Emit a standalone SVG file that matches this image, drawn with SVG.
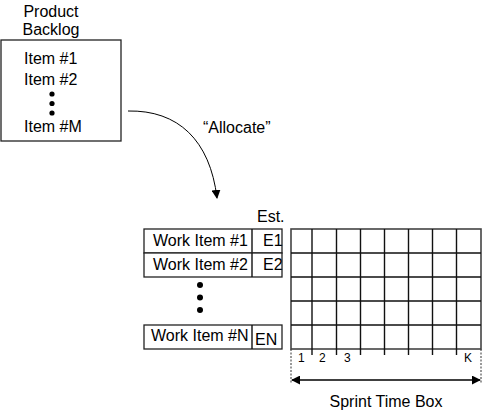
<svg xmlns="http://www.w3.org/2000/svg" width="484" height="414" viewBox="0 0 484 414">
<style>
text{font-family:"Liberation Sans",Arial,sans-serif;font-size:16px;fill:#000}
.s{font-size:12px}
.b{fill:#fff;stroke:#222;stroke-width:1.3}
.g{stroke:#111;stroke-width:1.4;fill:none}
</style>
<defs>
<marker id="ah" viewBox="0 0 10 10" refX="9" refY="5" markerWidth="9" markerHeight="9" markerUnits="userSpaceOnUse" orient="auto-start-reverse">
<path d="M0,0 L10,5 L0,10 z" fill="#000"/>
</marker>
</defs>
<g id="backlog">
<text x="51" y="17" text-anchor="middle">Product</text>
<text x="51" y="35" text-anchor="middle">Backlog</text>
<rect class="b" x="1" y="40" width="120" height="101"/>
<text x="24" y="64">Item #1</text>
<text x="24" y="85">Item #2</text>
<circle cx="52" cy="94" r="2.6"/>
<circle cx="52" cy="103.5" r="2.6"/>
<circle cx="52" cy="113" r="2.6"/>
<text x="24" y="132">Item #M</text>
</g>
<g id="connectors">
<path d="M128,111 C178,110 210,140 217,198" fill="none" stroke="#000" stroke-width="1" marker-end="url(#ah)"/>
<text x="203" y="133">“Allocate”</text>
</g>
<g id="workitems">
<text x="257" y="222">Est.</text>
<rect class="b" x="144" y="229" width="138" height="24"/>
<line class="g" x1="252" y1="229" x2="252" y2="253"/>
<text x="153" y="246">Work Item #1</text>
<text x="263" y="246">E1</text>
<rect class="b" x="144" y="253" width="138" height="24"/>
<line class="g" x1="252" y1="253" x2="252" y2="277"/>
<text x="153" y="270">Work Item #2</text>
<text x="263" y="270">E2</text>
<circle cx="200" cy="285" r="3"/>
<circle cx="200" cy="297.5" r="3"/>
<circle cx="200" cy="310" r="3"/>
<rect class="b" x="144" y="325" width="138" height="24"/>
<line class="g" x1="252" y1="325" x2="252" y2="349"/>
<text x="151" y="341">Work Item #N</text>
<text x="255" y="345">EN</text>
</g>
<g id="grid">
<rect x="291" y="229" width="190" height="120" fill="#fff" stroke="#444" stroke-width="1.6"/>
<path class="g" d="M312,229V355M336.5,229V355M360.5,229V355M384.5,229V355M408.5,229V355M432.5,229V355M456.5,229V355M291,253H481M291,277H481M291,301H481M291,325H481"/>
<text class="s" x="298" y="362">1</text>
<text class="s" x="319" y="362">2</text>
<text class="s" x="344" y="362">3</text>
<text class="s" x="464" y="362">K</text>
<path d="M291,349V384M481,349V384" stroke="#333" stroke-width="1" stroke-dasharray="2,1.5" fill="none"/>
<line x1="292" y1="380" x2="480" y2="380" stroke="#000" stroke-width="1.4" marker-start="url(#ah)" marker-end="url(#ah)"/>
<text x="386" y="407" text-anchor="middle">Sprint Time Box</text>
</g>
</svg>
